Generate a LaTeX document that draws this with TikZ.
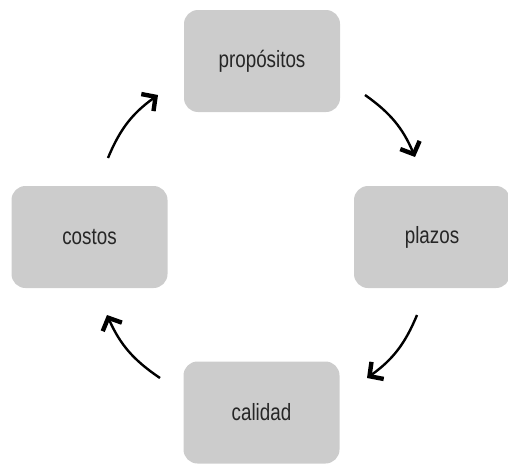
\documentclass[tikz,border=0pt]{standalone}
\usepackage{fontspec}
\setmainfont{Liberation Sans}[FakeStretch=0.8]
\usetikzlibrary{arrows.meta}
\definecolor{boxgray}{HTML}{CCCCCC}
\definecolor{txtgray}{HTML}{262626}
\begin{document}
\begin{tikzpicture}[x=1pt,y=-1pt,
  card/.style={fill=boxgray,rounded corners=14pt,minimum width=156pt,minimum height=102pt,
    text=txtgray,font=\fontsize{23.5}{26}\selectfont,inner sep=0pt},
  cyc/.style={line width=2.4pt,-{Straight Barb[length=10pt,width=21pt,line width=4.4pt]}}]
\useasboundingbox (0,0) rectangle (508,463);
\node[card] (prop) at (262,61) {propósitos};
\node[card] (plaz) at (432,237) {plazos};
\node[card] (cali) at (261.5,412.5) {calidad};
\node[card] (cost) at (89.5,237) {costos};
\coordinate (a1) at (365,95);
\coordinate (a2) at (415,157);
\coordinate (b1) at (417,315);
\coordinate (b2) at (367,378);
\coordinate (c1) at (160,378);
\coordinate (c2) at (107,315);
\coordinate (d1) at (108,158);
\coordinate (d2) at (158,95);
\draw[cyc] (a1) to[bend left=16] (a2);
\draw[cyc] (b1) to[bend left=16] (b2);
\draw[cyc] (c1) to[bend left=16] (c2);
\draw[cyc] (d1) to[bend left=16] (d2);
\end{tikzpicture}
\end{document}
